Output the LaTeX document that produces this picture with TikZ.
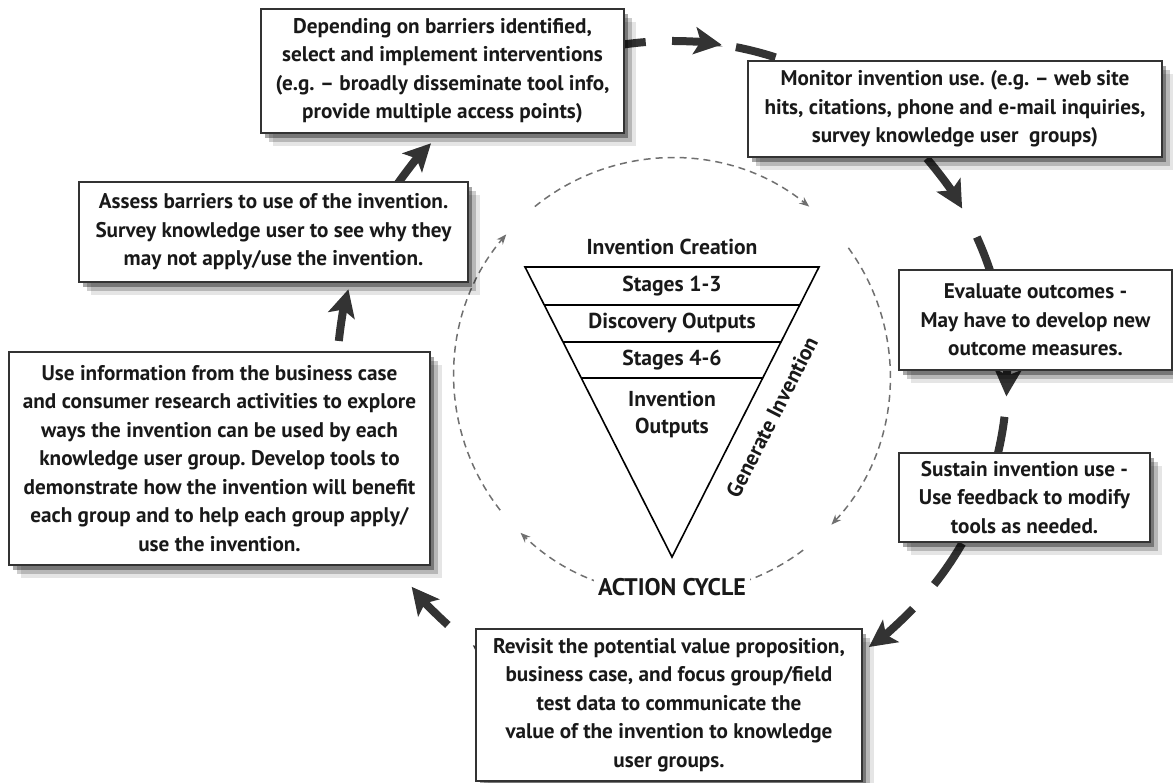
\documentclass[tikz,border=0pt]{standalone}
\usepackage{fontspec}
\setmainfont{PT Sans}
\frenchspacing
\usetikzlibrary{arrows.meta,shadows}
\definecolor{arrowgray}{HTML}{333333}
\definecolor{cyclegray}{HTML}{707070}
\tikzset{
    every node/.style={font=\bfseries\fontsize{10.6}{14.25}\selectfont, text=black!90},
    stepbox/.style={draw=black!80, line width=1pt, fill=white, align=center, inner sep=0pt,
        drop shadow={shadow xshift=2pt, shadow yshift=-2.5pt, opacity=0.35, fill=black},
        drop shadow={shadow xshift=4pt, shadow yshift=-4.5pt, opacity=0.2, fill=black},
        drop shadow={shadow xshift=6pt, shadow yshift=-6.5pt, opacity=0.1, fill=black}},
    tritext/.style={font=\bfseries\fontsize{10.8}{13.5}\selectfont, align=center},
    bigdash/.style={draw=arrowgray, line width=4pt},
    bigarrow/.style={bigdash, -{Stealth[length=13.5pt, width=13.5pt, inset=3pt]}},
    cycarrow/.style={draw=cyclegray, line width=0.75pt, dash pattern=on 3.5pt off 2.5pt,
        -{Stealth[length=5pt, width=4pt]}}
}

\begin{document}
\begin{tikzpicture}[x=0.5pt, y=0.5pt]
    \useasboundingbox (0,0) rectangle (1173,782);
    \coordinate (O) at (672,406);

    % Thin action cycle
    \foreach \a/\b in {218/139.5, 129/51, 36/-43, -53/-134} {
        \draw[cycarrow] (O) ++(\a:218) arc[start angle=\a, end angle=\b, radius=218];
    }
    \node[font=\bfseries\fontsize{12}{14}\selectfont, fill=white, inner sep=2pt] (cyc) at (672,195) {ACTION CYCLE};

    % Inverted triangle
    \draw[line width=0.8pt] (525,515) -- (819,515) -- (672,225) -- cycle;
    \draw[line width=0.8pt] (544.3,477) -- (799.7,477);
    \draw[line width=0.8pt] (563,440) -- (781,440);
    \draw[line width=0.8pt] (581.3,404) -- (762.7,404);
    \node[tritext] (crea) at (672,535) {Invention Creation};
    \node[tritext] (s13) at (672,496) {Stages 1-3};
    \node[tritext] (disc) at (672,459) {Discovery Outputs};
    \node[tritext] (s46) at (672,422) {Stages 4-6};
    \node[tritext] (outs) at (672,368) {Invention\\Outputs};
    \node[tritext, rotate=63] (gen) at (772,365) {Generate Invention};

    % Big outer cycle: dashes and arrows
    \foreach \a/\b in {100/94.5, 79/72, 24.5/17, -7/-15, -30/-38.5} {
        \draw[bigdash] (O) ++(\a:335) arc[start angle=\a, end angle=\b, radius=335];
    }
    \foreach \a/\b in {90/81.5, 40.5/30, 3/-3.5, -44/-54, 240/233.5, 228/219, 174/165, 145/136} {
        \draw[bigarrow] (O) ++(\a:335) arc[start angle=\a, end angle=\b, radius=335];
    }

    % Steps
    \node[stepbox, minimum width=181.5pt, minimum height=62pt] (dep) at (442.5,711)
        {Depending on barriers identified,\\select and implement interventions\\(e.g. -- broadly disseminate tool info,\\provide multiple access points)};
    \node[stepbox, minimum width=207pt, minimum height=48pt] (mon) at (955,673)
        {Monitor invention use. (e.g. -- web site\\hits, citations, phone and e-mail inquiries,\\survey knowledge user\ \ groups)};
    \node[stepbox, minimum width=136.5pt, minimum height=50pt] (eval) at (1035.5,462)
        {Evaluate outcomes -\\May have to develop new\\outcome measures.};
    \node[stepbox, minimum width=125.5pt, minimum height=44.5pt] (sus) at (1024.5,284.5)
        {Sustain invention use -\\Use feedback to modify\\tools as needed.};
    \node[stepbox, minimum width=193pt, minimum height=76pt] (rev) at (669,77)
        {Revisit the potential value proposition,\\business case, and focus group/field\\test data to communicate the\\value of the invention to knowledge\\user groups.};
    \node[stepbox, minimum width=210.5pt, minimum height=106.5pt] (use) at (219.5,323.5)
        {Use information from the business case\\and consumer research activities to explore\\ways the invention can be used by each\\knowledge user group. Develop tools to\\demonstrate how the invention will benefit\\each group and to help each group apply/\\use the invention.};
    \node[stepbox, minimum width=194.5pt, minimum height=50pt] (ass) at (273.5,550)
        {Assess barriers to use of the invention.\\Survey knowledge user to see why they\\may not apply/use the invention.};
\end{tikzpicture}
\end{document}
